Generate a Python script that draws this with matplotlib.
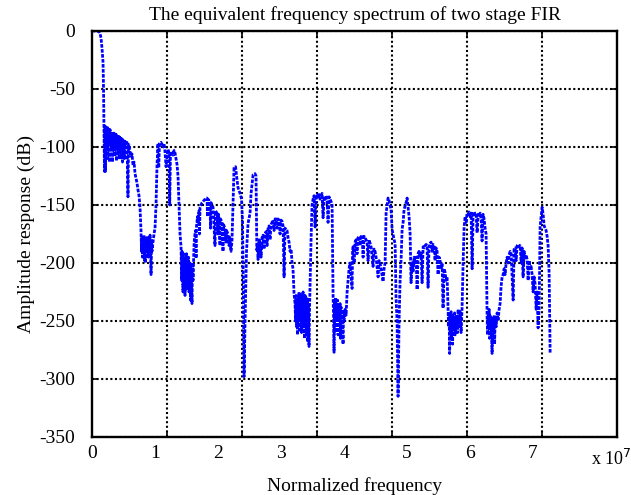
import matplotlib
matplotlib.use("Agg")
import matplotlib.pyplot as plt
import numpy as np
from matplotlib.ticker import FixedLocator, NullFormatter

plt.rcParams["font.family"] = ["Liberation Serif", "DejaVu Serif"]

# Normalized frequency (units of 1e7) and amplitude response (dB)
freq = [
    0.000, 0.063, 0.111, 0.127, 0.143, 0.159, 0.175, 0.183, 0.190,
    0.198, 0.206, 0.214, 0.222, 0.230, 0.238, 0.246, 0.254, 0.262, 0.270,
    0.278, 0.286, 0.294, 0.302, 0.310, 0.317, 0.325, 0.333, 0.341, 0.349,
    0.357, 0.365, 0.373, 0.381, 0.389, 0.397, 0.405, 0.413, 0.421, 0.429,
    0.437, 0.444, 0.452, 0.460, 0.468, 0.476, 0.484, 0.492, 0.500, 0.508,
    0.516, 0.524, 0.540, 0.556, 0.571, 0.579, 0.587, 0.603, 0.619, 0.635,
    0.651, 0.667, 0.683, 0.698, 0.714, 0.730, 0.746, 0.762, 0.778,
    0.786, 0.794, 0.802, 0.810, 0.817, 0.825, 0.833, 0.841, 0.849, 0.857,
    0.865, 0.873, 0.881, 0.889, 0.897, 0.905, 0.913, 0.921, 0.929, 0.937,
    0.944, 0.952, 0.968, 0.984, 1.000, 1.016, 1.032, 1.048,
    1.059, 1.071, 1.095, 1.111, 1.127, 1.143, 1.159, 1.175, 1.190, 1.206,
    1.222, 1.233, 1.246, 1.270, 1.286, 1.302, 1.317, 1.333, 1.349, 1.365,
    1.381, 1.397, 1.413,
    1.421, 1.429, 1.444, 1.452, 1.460, 1.468, 1.476, 1.484, 1.492, 1.500,
    1.508, 1.516, 1.524, 1.532, 1.540, 1.556, 1.563, 1.571, 1.587, 1.595,
    1.603, 1.619,
    1.627, 1.643, 1.651, 1.659, 1.675, 1.683, 1.698, 1.706, 1.714, 1.730,
    1.746, 1.762, 1.778, 1.794, 1.810, 1.825, 1.833, 1.841, 1.857, 1.873,
    1.881, 1.889, 1.905, 1.921, 1.952, 1.960, 1.984, 2.000, 2.008, 2.032,
    2.040, 2.063, 2.079, 2.087, 2.111, 2.127, 2.135, 2.159, 2.175, 2.183,
    2.206, 2.222,
    2.238, 2.254, 2.278, 2.294, 2.317, 2.349, 2.373, 2.389, 2.405, 2.413,
    2.429, 2.452, 2.476, 2.508, 2.524, 2.556, 2.587, 2.603, 2.616,
    2.627, 2.635, 2.651, 2.667, 2.683, 2.698, 2.714, 2.730, 2.746, 2.762,
    2.778, 2.794, 2.810, 2.825, 2.841, 2.857, 2.873, 2.889, 2.905, 2.921,
    2.937, 2.952, 2.968, 2.984, 3.000, 3.016, 3.032, 3.048, 3.063, 3.095,
    3.111, 3.127, 3.143, 3.159, 3.175, 3.190, 3.206,
    3.222, 3.230, 3.238, 3.246, 3.254, 3.262, 3.270, 3.278, 3.286, 3.294,
    3.302, 3.310, 3.317, 3.325, 3.333, 3.341, 3.349, 3.357, 3.365, 3.373,
    3.381, 3.389, 3.397, 3.405, 3.413, 3.421, 3.429, 3.444, 3.452, 3.460,
    3.476, 3.492, 3.508, 3.524, 3.540, 3.556, 3.571, 3.587, 3.603, 3.619,
    3.635, 3.651, 3.667, 3.683, 3.698, 3.714, 3.730, 3.746, 3.762, 3.778,
    3.794, 3.810, 3.825,
    3.833, 3.841, 3.849, 3.857, 3.865, 3.873, 3.881, 3.889, 3.897, 3.905,
    3.913, 3.921, 3.937, 3.944, 3.952, 3.960, 3.968, 3.984, 3.992, 4.000,
    4.016, 4.032, 4.048,
    4.063, 4.079, 4.095, 4.111, 4.127, 4.135, 4.143, 4.159, 4.175, 4.190,
    4.206, 4.222, 4.238, 4.254, 4.270, 4.286, 4.302, 4.317, 4.333, 4.349,
    4.365, 4.381, 4.397, 4.413, 4.429, 4.460, 4.476, 4.492, 4.508, 4.540,
    4.556, 4.571, 4.587, 4.619, 4.635, 4.651,
    4.667, 4.698, 4.714, 4.746, 4.762, 4.794, 4.810, 4.825, 4.841, 4.857,
    4.873, 4.889, 4.905, 4.921, 4.937, 4.952, 4.984, 5.000, 5.016, 5.032,
    5.048, 5.063,
    5.079, 5.095, 5.111, 5.127, 5.143, 5.159, 5.175, 5.190, 5.206, 5.222,
    5.238, 5.254, 5.270, 5.286, 5.302, 5.317, 5.333, 5.349, 5.365, 5.381,
    5.397, 5.413, 5.429, 5.444, 5.460, 5.476, 5.492, 5.508, 5.524, 5.540,
    5.556, 5.571, 5.587, 5.603, 5.619, 5.635, 5.651,
    5.659, 5.667, 5.675, 5.683, 5.690, 5.698, 5.706, 5.714, 5.722, 5.730,
    5.746, 5.754, 5.762, 5.770, 5.778, 5.794, 5.802, 5.810, 5.825, 5.841,
    5.857, 5.873,
    5.889, 5.905, 5.921, 5.937, 5.952, 5.968, 5.984, 6.000, 6.016, 6.032,
    6.048, 6.063, 6.079, 6.095, 6.111, 6.127, 6.143, 6.159, 6.175, 6.190,
    6.206, 6.222, 6.238, 6.254, 6.270,
    6.278, 6.286, 6.294, 6.302, 6.310, 6.317, 6.333, 6.341, 6.349, 6.357,
    6.365, 6.381, 6.389, 6.397, 6.413, 6.429, 6.444, 6.460, 6.476, 6.492,
    6.508, 6.524, 6.540, 6.556, 6.571, 6.587, 6.603, 6.619, 6.635, 6.651,
    6.683, 6.698, 6.714, 6.730, 6.746, 6.762, 6.778, 6.794, 6.810, 6.825,
    6.841, 6.857, 6.873, 6.889, 6.905, 6.921, 6.937, 6.952, 6.968, 6.984,
    7.000, 7.016, 7.032, 7.048, 7.063, 7.079, 7.095,
    7.111, 7.127, 7.143, 7.159, 7.175, 7.206, 7.222, 7.238, 7.254, 7.262,
    7.270,
]

amp_db = [
    0, 0, -0.5, -2, -6, -15, -27, -50, -81,
    -121, -81, -121, -83, -100, -82, -110, -84, -95, -85,
    -113, -85, -98, -87, -102, -87, -113, -88, -100, -88,
    -108, -89, -100, -89, -112, -90, -102, -91, -106, -91,
    -111, -92, -102, -93, -108, -93, -113, -94, -105, -95,
    -110, -95, -97, -96, -143, -99, -98, -104, -108, -106,
    -116, -113, -123, -127, -131, -137, -142, -152, -173,
    -190, -178, -195, -180, -187, -176, -198, -180, -200, -182,
    -190, -178, -196, -182, -195, -178, -190, -176, -185, -210,
    -180, -190, -182, -175, -170, -150, -115, -97,
    -118, -97, -96, -98, -100, -97, -104, -117, -110, -102,
    -105, -150, -104, -105, -107, -103, -105, -110, -115, -125,
    -150, -175, -186,
    -215, -190, -225, -192, -212, -195, -228, -195, -205, -192,
    -222, -196, -210, -195, -225, -200, -232, -205, -235, -200,
    -215, -185,
    -178, -172, -196, -168, -160, -165, -155, -175, -152, -150,
    -148, -147, -146, -145, -144, -144, -160, -145, -146, -148,
    -170, -148, -150, -152, -185, -155, -157, -175, -158, -185,
    -162, -165, -190, -167, -170, -182, -172, -175, -185, -177,
    -190, -180,
    -150, -118, -117, -125, -135, -140, -145, -165, -240, -298,
    -250, -190, -166, -157, -140, -124, -123, -125, -189,
    -183, -197, -180, -183, -195, -178, -176, -188, -175, -173,
    -185, -170, -168, -180, -167, -165, -163, -172, -162, -162,
    -170, -162, -163, -175, -163, -164, -168, -212, -170, -172,
    -178, -182, -190, -188, -200, -205, -226,
    -235, -250, -228, -255, -232, -262, -230, -250, -225, -258,
    -230, -245, -226, -260, -232, -248, -225, -255, -235, -265,
    -228, -250, -230, -262, -230, -268, -235, -272, -240, -220,
    -180, -150, -145, -142, -169, -143, -141, -144, -141, -145,
    -142, -140, -161, -143, -145, -142, -145, -165, -143, -145,
    -147, -150, -226,
    -245, -277, -232, -250, -230, -260, -235, -248, -232, -262,
    -238, -250, -235, -265, -238, -255, -240, -270, -242, -250,
    -240, -245, -225,
    -215, -205, -200, -210, -222, -190, -186, -200, -182, -180,
    -192, -178, -177, -185, -177, -176, -195, -177, -178, -180,
    -182, -198, -180, -183, -186, -203, -188, -190, -195, -212,
    -198, -200, -205, -216, -205, -200,
    -157, -144, -146, -154, -171, -180, -183, -230, -250, -315,
    -250, -215, -197, -171, -165, -154, -148, -144, -152, -160,
    -175, -217,
    -200, -208, -195, -200, -195, -223, -192, -190, -195, -190,
    -217, -186, -187, -185, -184, -185, -221, -184, -183, -182,
    -190, -184, -185, -198, -187, -190, -210, -195, -198, -205,
    -200, -239, -205, -208, -215, -212, -240,
    -255, -242, -278, -245, -260, -242, -265, -245, -270, -248,
    -258, -243, -262, -246, -255, -245, -260, -240, -255, -242,
    -260, -238,
    -200, -169, -160, -165, -157, -158, -156, -160, -157, -205,
    -157, -156, -158, -157, -174, -158, -160, -157, -162, -181,
    -158, -162, -170, -175, -247,
    -262, -245, -255, -240, -265, -245, -250, -262, -278, -248,
    -258, -245, -270, -248, -255, -243, -250, -240, -235, -220,
    -212, -210, -205, -210, -200, -195, -200, -193, -190, -192,
    -232, -188, -187, -198, -185, -184, -186, -185, -200, -187,
    -212, -190, -195, -193, -197, -215, -198, -205, -203, -210,
    -225, -212, -218, -240, -225, -256, -240,
    -169, -160, -152, -158, -168, -172, -177, -185, -209, -245,
    -278,
]

x_tick_values = [0, 1, 2, 3, 4, 5, 6, 7]
y_tick_values = [0, -50, -100, -150, -200, -250, -300, -350]
x_max = 8.333   # upper frequency limit, units of 1e7
n_grid_div = 7  # vertical grid divisions across the frequency span

scale = 1e7
f_hz = np.array(freq) * scale

fig = plt.figure(figsize=(6.31, 4.95), dpi=100)
ax = fig.add_axes([0.1458, 0.1172, 0.8322, 0.8202])

ax.plot(f_hz, amp_db, color="#0000ff", lw=2.0,
        linestyle=(0, (1.3, 0.5)), solid_capstyle="butt")

ax.set_xlim(0, x_max * scale)
ax.set_ylim(-350, 0)

# labelled ticks (no marks, no grid)
ax.set_xticks([v * scale for v in x_tick_values])
ax.set_xticklabels([str(v) for v in x_tick_values])
ax.tick_params(axis="x", which="major", length=0, pad=6, labelsize=14)

# grid divisions carry the tick marks and vertical grid lines
grid_pos = np.linspace(0, x_max * scale, n_grid_div + 1)[1:-1]
ax.xaxis.set_minor_locator(FixedLocator(grid_pos))
ax.xaxis.set_minor_formatter(NullFormatter())
ax.tick_params(axis="x", which="minor", direction="in", length=4,
               width=1.2, top=True, bottom=True)

ax.set_yticks(y_tick_values)
ax.set_yticklabels([str(v) for v in y_tick_values])
ax.tick_params(axis="y", which="major", direction="in", length=4, width=1.2,
               left=True, right=True, pad=12, labelsize=14)

grid_style = dict(color="black", linestyle=(0, (1, 1.2)), linewidth=1.5)
ax.grid(True, axis="x", which="minor", **grid_style)
ax.grid(True, axis="y", which="major", **grid_style)
ax.grid(False, axis="x", which="major")

for s in ax.spines.values():
    s.set_linewidth(1.7)
    s.set_color("black")

ax.set_title("The equivalent frequency spectrum of two stage FIR",
             fontsize=14, pad=8)
ax.set_xlabel("Normalized frequency", fontsize=14, labelpad=11)
ax.set_ylabel("Amplitude response (dB)", fontsize=14, labelpad=3)

fig.text(0.937, 0.06, r"x 10$^{7}$", fontsize=13, ha="left", va="baseline")

fig.savefig("out.png", dpi=100)
